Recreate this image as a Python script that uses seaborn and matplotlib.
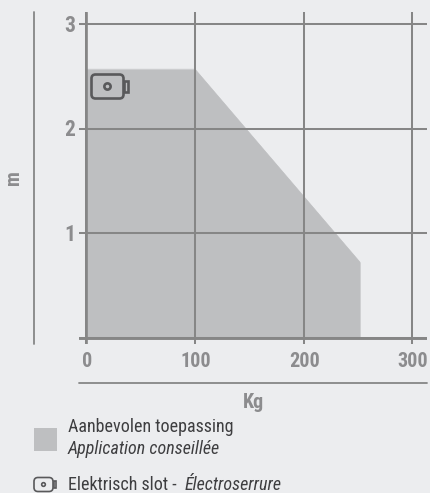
import matplotlib
matplotlib.use("Agg")
import matplotlib.pyplot as plt
import pandas as pd
import seaborn as sns
from matplotlib.patches import FancyBboxPatch, Rectangle, Circle

# ----------------------- DATA ----------------------
weight_kg = [0, 100, 252]
height_m = [2.57, 2.57, 0.72]
x_ticks = [0, 100, 200, 300]
y_ticks = [1, 2, 3]
legend_top = "Aanbevolen toepassing"
legend_bottom = "Application conseillée"
lock_nl = "Elektrisch slot - "
lock_fr = "Électroserrure"

BG = "#ECEDEF"
GRID = "#868686"
FILL = "#BEBFC1"
TICK = "#8C8C8E"
DARK = "#3E3E40"
ICON = "#59595B"
NARROW = ["Roboto Condensed", "Archivo Narrow", "Roboto", "DejaVu Sans"]

sns.set_style("white")
plt.rcParams["font.family"] = NARROW

W, H = 430, 493
fig = plt.figure(figsize=(W / 100, H / 100), dpi=100, facecolor=BG)

# axes span in pixels: x 79-427, y 12-344
ax = fig.add_axes([79 / W, 1 - 344 / H, (427 - 79) / W, (344 - 12) / H], facecolor=BG)

df = pd.DataFrame({"kg": weight_kg, "m": height_m})
sns.lineplot(data=df, x="kg", y="m", color=FILL, lw=0.5, ax=ax, zorder=1)
ax.fill_between(df["kg"], df["m"], 0, color=FILL, lw=0, zorder=1)

ax.set_xlim(-6.9, 313.6)
ax.set_ylim(-0.062, 3.118)
ax.set_xticks(x_ticks)
ax.set_yticks([0] + y_ticks)
ax.set_xticklabels([])
ax.set_yticklabels([])
ax.tick_params(length=0)
ax.set_xlabel("")
ax.set_ylabel("")
ax.grid(True, color=GRID, lw=1.45, zorder=2)
ax.set_axisbelow(False)
for s in ax.spines.values():
    s.set_visible(False)
ax.axhline(0, color=GRID, lw=2.1, zorder=3)
ax.axvline(0, color=GRID, lw=1.9, zorder=3)

# tick labels in data coordinates
for v in x_ticks:
    ax.annotate(str(v), (v, 0), xytext=(0.5, -24), textcoords=("offset pixels"), ha="center", va="center",
                color=TICK, fontsize=14.5, fontweight="bold", annotation_clip=False)
for v in y_ticks:
    ax.annotate(str(v), (0, v), xytext=(-17, -1.5), textcoords=("offset pixels"), ha="center", va="center",
                color=TICK, fontsize=15.5, fontweight="bold", annotation_clip=False)

# overlay in image pixels for the outer rules, labels, legend and icons
ov = fig.add_axes([0, 0, 1, 1], facecolor="none")
ov.set_xlim(0, W)
ov.set_ylim(H, 0)
ov.axis("off")

ov.plot([34, 34], [12, 344], color=GRID, lw=1.3)
ov.plot([79, 427], [382.5, 382.5], color=GRID, lw=1.3)
ov.text(13.5, 178, "m", rotation=90, ha="center", va="center", color=TICK, fontsize=14.5, fontweight="bold")
ov.text(253, 402, "Kg", ha="center", va="center", color=TICK, fontsize=14.5, fontweight="bold")


def lock_icon(x, y, w, h, lw):
    ov.add_patch(FancyBboxPatch((x + 1.5, y + 1.5), w - 3, h - 3, boxstyle="round,pad=1.5,rounding_size=4",
                                fc="none", ec=ICON, lw=lw, zorder=5))
    ov.add_patch(Rectangle((x + w + 0.5, y + h * 0.28), w * 0.12, h * 0.44, fc="none", ec=ICON, lw=lw, zorder=5))
    ov.add_patch(Circle((x + w * 0.5, y + h * 0.5), h * 0.13, fc="none", ec=ICON, lw=lw, zorder=5))


lock_icon(91.5, 74.5, 32, 24, 1.9)
lock_icon(34, 477.5, 19, 14, 1.2)

ov.add_patch(Rectangle((34, 428), 23, 23, fc=FILL, ec="none"))
ov.text(68, 427, legend_top, ha="left", va="center", color=DARK, fontsize=13)
ov.text(68, 449.5, legend_bottom, ha="left", va="center", color=DARK, fontsize=13, style="italic")
t = ov.text(68, 485, lock_nl, ha="left", va="center", color=DARK, fontsize=13)
fig.canvas.draw()
end = t.get_window_extent().x1
ov.text(end + 4, 485, lock_fr, ha="left", va="center", color=DARK, fontsize=13, style="italic")

fig.savefig("out.png", dpi=100, facecolor=BG)
